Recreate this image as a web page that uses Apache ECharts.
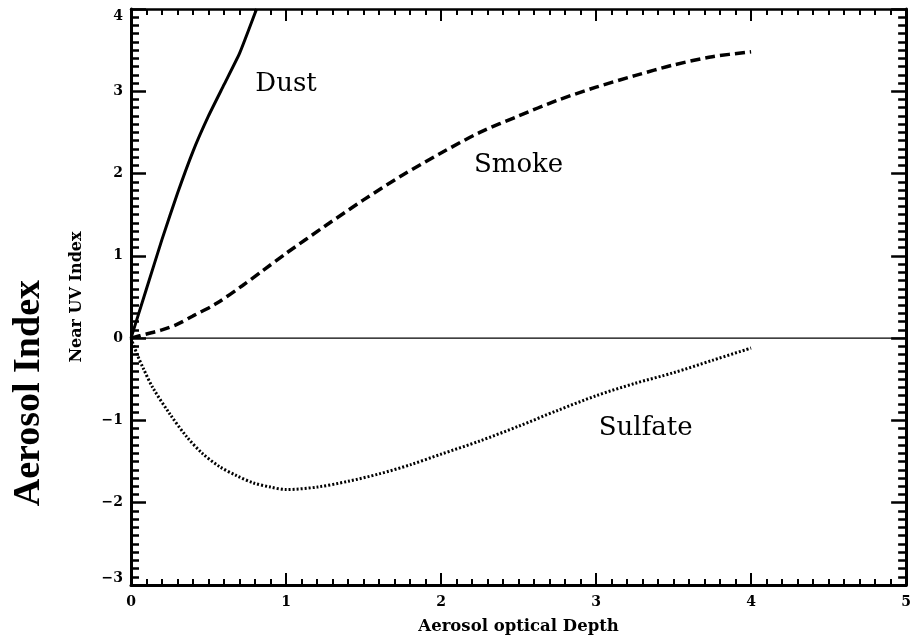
<!DOCTYPE html>
<html>
<head>
<meta charset="utf-8">
<script src="https://cdn.jsdelivr.net/npm/echarts@6/dist/echarts.min.js"></script>
<style>
  html, body { margin: 0; padding: 0; background: #fff; }
  #chart { width: 914px; height: 640px; }
</style>
</head>
<body>
<div id="chart"></div>
<script>
// Near UV aerosol index versus aerosol optical depth for three aerosol types
const xTicks = [0, 1, 2, 3, 4, 5];
const yTicks = [-3, -2, -1, 0, 1, 2, 3, 4];

// [optical depth, index]
const dust = [
  [0, 0], [0.1, 0.6], [0.2, 1.2], [0.3, 1.76], [0.4, 2.27],
  [0.5, 2.7], [0.6, 3.08], [0.7, 3.46], [0.81, 4.0]
];
const smoke = [
  [0, 0], [0.1, 0.05], [0.2, 0.1], [0.3, 0.17], [0.4, 0.27], [0.55, 0.42],
  [0.72, 0.64], [0.85, 0.82], [1.0, 1.03], [1.25, 1.36], [1.5, 1.68],
  [1.75, 1.98], [2.0, 2.25], [2.25, 2.5], [2.5, 2.7], [2.75, 2.89],
  [3.0, 3.05], [3.25, 3.19], [3.5, 3.32], [3.75, 3.42], [4.0, 3.48]
];
const sulfate = [
  [0, 0], [0.04, -0.2], [0.08, -0.37], [0.14, -0.6], [0.25, -0.92],
  [0.36, -1.2], [0.46, -1.4], [0.57, -1.56], [0.68, -1.67], [0.79, -1.76],
  [0.9, -1.81], [1.0, -1.84], [1.2, -1.81], [1.4, -1.74], [1.6, -1.65],
  [1.8, -1.54], [2.0, -1.41], [2.25, -1.25], [2.5, -1.07], [2.75, -0.88],
  [3.0, -0.7], [3.25, -0.55], [3.5, -0.42], [3.75, -0.27], [4.0, -0.12]
];
const zeroLine = [[0, 0], [5, 0]];

// curve names placed at data positions
const curveLabels = [
  { name: 'Dust', value: [1.0, 3.08] },
  { name: 'Smoke', value: [2.5, 2.1] },
  { name: 'Sulfate', value: [3.32, -1.09] }
];

const serif = 'DejaVu Serif';
const minus = v => String(v).replace('-', '\u2212');

function frameAxis(extra) {
  return Object.assign({
    type: 'value',
    axisLine: { show: true, onZero: false, lineStyle: { color: '#000', width: 3 } },
    axisTick: { show: true, inside: true, length: 12, lineStyle: { color: '#000', width: 2 } },
    minorTick: { show: true, splitNumber: 10, length: 6, lineStyle: { color: '#000', width: 2 } },
    splitLine: { show: false },
    minorSplitLine: { show: false }
  }, extra);
}

const yTickStyle = {
  axisTick: { show: true, inside: true, length: 15, lineStyle: { color: '#000', width: 2.5 } },
  minorTick: { show: true, splitNumber: 10, length: 8, lineStyle: { color: '#000', width: 2.5 } }
};

const chart = echarts.init(document.getElementById('chart'), null, { renderer: 'canvas' });
chart.setOption({
  backgroundColor: '#fff',
  animation: false,
  grid: { left: 131, right: 7, top: 9, bottom: 55 },
  xAxis: [
    frameAxis({
      min: xTicks[0], max: xTicks[xTicks.length - 1], interval: 1, position: 'bottom',
      name: 'Aerosol optical Depth', nameLocation: 'middle', nameGap: 33,
      nameTextStyle: { fontFamily: serif, fontSize: 16.5, fontWeight: 'bold', color: '#000' },
      axisLabel: { margin: 10, fontFamily: serif, fontSize: 14, fontWeight: 'bold', color: '#000', formatter: minus }
    }),
    frameAxis({
      min: xTicks[0], max: xTicks[xTicks.length - 1], interval: 1, position: 'top',
      axisLabel: { show: false },
      axisLine: { show: true, onZero: false, lineStyle: { color: '#000', width: 2.5 } }
    })
  ],
  yAxis: [
    frameAxis(Object.assign({
      min: yTicks[0], max: yTicks[yTicks.length - 1], interval: 1, position: 'left',
      name: 'Near UV Index', nameLocation: 'middle', nameGap: 46,
      nameTextStyle: { fontFamily: serif, fontSize: 16, fontWeight: 'bold', color: '#000' },
      axisLabel: {
        margin: 8, fontFamily: serif, fontSize: 14, fontWeight: 'bold', color: '#000', formatter: minus,
        verticalAlignMaxLabel: 'top', verticalAlignMinLabel: 'bottom'
      }
    }, yTickStyle)),
    frameAxis(Object.assign({
      min: yTicks[0], max: yTicks[yTicks.length - 1], interval: 1, position: 'right',
      axisLabel: { show: false }
    }, yTickStyle))
  ],
  graphic: [{
    type: 'text',
    left: 10, top: 280,
    rotation: Math.PI / 2,
    style: {
      text: 'Aerosol Index',
      font: 'bold 38px "Liberation Serif", "Times New Roman", serif',
      fill: '#000'
    }
  }],
  series: [
    {
      name: 'zero', type: 'line', data: zeroLine, symbol: 'none', silent: true,
      lineStyle: { color: '#000', width: 1.3 }
    },
    {
      name: 'Dust', type: 'line', data: dust, symbol: 'none', smooth: 0.15,
      lineStyle: { color: '#000', width: 3 }
    },
    {
      name: 'Smoke', type: 'line', data: smoke, symbol: 'none', smooth: 0.3,
      lineStyle: { color: '#000', width: 3.5, type: [10, 5] }
    },
    {
      name: 'Sulfate', type: 'line', data: sulfate, symbol: 'none', smooth: 0.3,
      lineStyle: { color: '#000', width: 3, type: [2, 2] }
    },
    {
      name: 'labels', type: 'scatter', data: curveLabels, symbolSize: 0, silent: true,
      itemStyle: { opacity: 1 },
      label: {
        show: true, position: 'inside', formatter: p => p.name,
        fontFamily: serif, fontSize: 26, color: '#000', opacity: 1
      }
    }
  ]
});
</script>
</body>
</html>
